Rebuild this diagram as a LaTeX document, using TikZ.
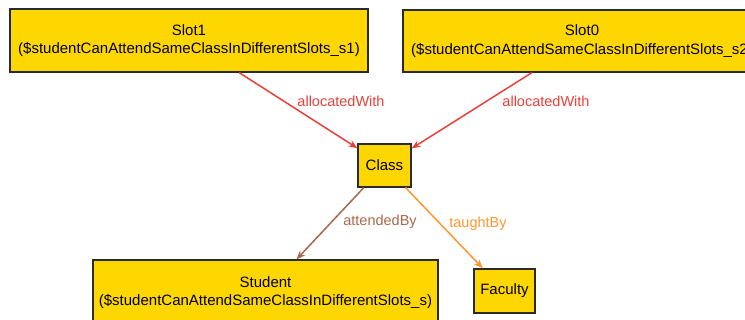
\documentclass[tikz,border=0pt]{standalone}
\usepackage{fontspec}
\setmainfont{Liberation Sans}
\usetikzlibrary{arrows.meta}
\definecolor{boxfill}{HTML}{FFD700}
\definecolor{boxline}{HTML}{2A2A2A}
\definecolor{redE}{HTML}{E8403A}
\definecolor{brownE}{HTML}{A8684A}
\definecolor{orangeE}{HTML}{FF9730}
\tikzset{
  cls/.style={draw=boxline, fill=boxfill, line width=1.2pt, inner sep=0pt, align=center,
    font=\fontsize{15}{18.5}\selectfont, text=black},
  rel/.style={line width=1.5pt, -{Stealth[length=9pt,width=7pt]}},
  lbl/.style={font=\fontsize{14.5}{16}\selectfont, inner sep=0pt}
}
\begin{document}
\begin{tikzpicture}[x=1pt,y=-1pt]
\clip (0,0) rectangle (745,320);
\useasboundingbox (0,0) rectangle (745,320);
\node[cls, minimum width=358pt, minimum height=63pt] (s1) at (189,40.5)
  {Slot1\\(\$studentCanAttendSameClassInDifferentSlots\_s1)};
\node[cls, minimum width=358pt, minimum height=62pt] (s0) at (582,41)
  {Slot0\\(\$studentCanAttendSameClassInDifferentSlots\_s2)};
\node[cls, minimum width=53pt, minimum height=43pt] (c) at (384.5,165.5) {Class};
\node[cls, minimum width=345pt, minimum height=65pt] (st) at (265.5,292.5)
  {Student\\(\$studentCanAttendSameClassInDifferentSlots\_s)};
\node[cls, minimum width=61pt, minimum height=44pt] (f) at (504.5,291) {Faculty};
\draw[rel, draw=redE, fill=redE] (s1) -- (c);
\draw[rel, draw=redE, fill=redE] (s0) -- (c);
\draw[rel, draw=brownE, fill=brownE] (c) -- (st);
\draw[rel, draw=orangeE, fill=orangeE] (c) -- (f);
\node[lbl, text=redE] (l1) at (341,101) {allocatedWith};
\node[lbl, text=redE] (l2) at (546,101) {allocatedWith};
\node[lbl, text=brownE] (l3) at (380,222) {attendedBy};
\node[lbl, text=orangeE] (l4) at (478,224) {taughtBy};
\end{tikzpicture}
\end{document}
